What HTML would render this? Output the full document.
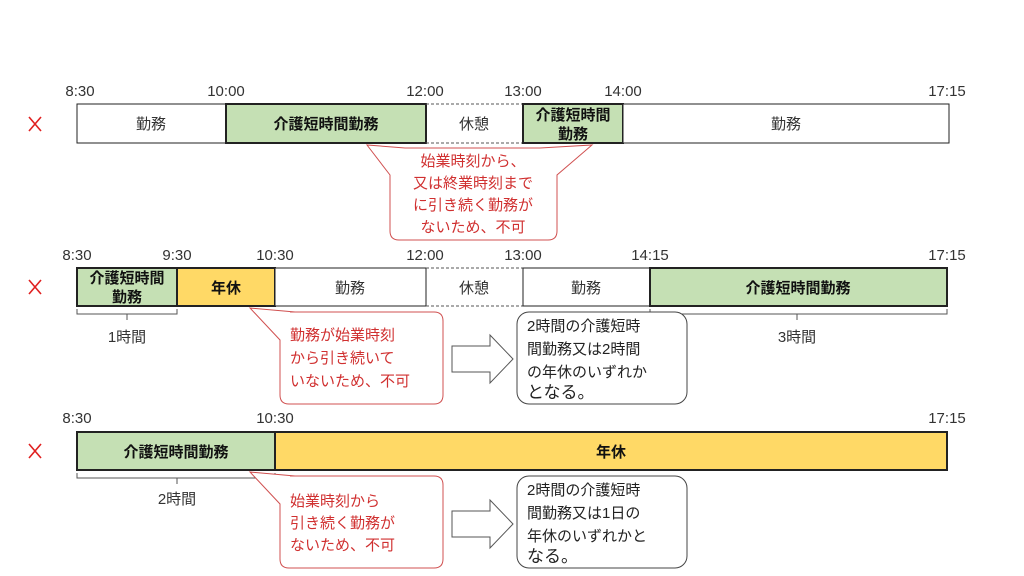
<!DOCTYPE html>
<html><head><meta charset="utf-8"><style>
body{margin:0;background:#fff}
svg{display:block;font-family:"Liberation Sans","Noto Sans CJK JP",sans-serif}
.t{font-size:15px;fill:#333;text-anchor:middle}
.b{font-size:15px;font-weight:bold;fill:#111;text-anchor:middle}
.r{font-size:15px;fill:#d03030}
.k{font-size:15px;fill:#222}
</style></head><body>
<svg width="1024" height="576" viewBox="0 0 1024 576">
<g stroke="#e02020" stroke-width="1.6"><path d="M29 117 L41 131 M41 117 L29 131"/><path d="M29 280 L41 294 M41 280 L29 294"/><path d="M29 444 L41 458 M41 444 L29 458"/></g>
<!-- Row 1 -->
<g class="t"><text x="80" y="96">8:30</text><text x="226" y="96">10:00</text><text x="425" y="96">12:00</text><text x="523" y="96">13:00</text><text x="623" y="96">14:00</text><text x="947" y="96">17:15</text></g>
<rect x="77" y="104" width="149" height="39" fill="#fff" stroke="#222"/>
<rect x="226" y="104" width="200" height="39" fill="#c5e0b4" stroke="#222" stroke-width="2"/>
<line x1="426" y1="104" x2="523" y2="104" stroke="#555" stroke-dasharray="3,2"/>
<line x1="426" y1="143" x2="523" y2="143" stroke="#555" stroke-dasharray="3,2"/>
<rect x="523" y="104" width="100" height="39" fill="#c5e0b4" stroke="#222" stroke-width="2"/>
<rect x="623" y="104" width="326" height="39" fill="#fff" stroke="#222"/>
<text class="t" x="151" y="129">勤務</text>
<text class="b" x="326" y="129">介護短時間勤務</text>
<text class="t" x="474" y="129">休憩</text>
<text class="b" x="573" y="120">介護短時間</text><text class="b" x="573" y="139">勤務</text>
<text class="t" x="786" y="129">勤務</text>
<path d="M405 148 L367 145 L390 175 V231 Q390 240 399 240 H548 Q557 240 557 231 V175 L592 145 L540 148 Z" fill="#fff" stroke="#d05050"/>
<g class="r" text-anchor="middle"><text x="473" y="166">始業時刻から、</text><text x="473" y="188">又は終業時刻まで</text><text x="473" y="210">に引き続く勤務が</text><text x="473" y="232">ないため、不可</text></g>
<!-- Row 2 -->
<g class="t"><text x="77" y="260">8:30</text><text x="177" y="260">9:30</text><text x="275" y="260">10:30</text><text x="425" y="260">12:00</text><text x="523" y="260">13:00</text><text x="650" y="260">14:15</text><text x="947" y="260">17:15</text></g>
<rect x="77" y="268" width="100" height="38" fill="#c5e0b4" stroke="#222" stroke-width="2"/>
<rect x="177" y="268" width="98" height="38" fill="#ffd966" stroke="#222" stroke-width="2"/>
<rect x="275" y="268" width="151" height="38" fill="#fff" stroke="#222"/>
<line x1="426" y1="268" x2="523" y2="268" stroke="#555" stroke-dasharray="3,2"/>
<line x1="426" y1="306" x2="523" y2="306" stroke="#555" stroke-dasharray="3,2"/>
<rect x="523" y="268" width="127" height="38" fill="#fff" stroke="#222"/>
<rect x="650" y="268" width="297" height="38" fill="#c5e0b4" stroke="#222" stroke-width="2"/>
<text class="b" x="127" y="283">介護短時間</text><text class="b" x="127" y="302">勤務</text>
<text class="b" x="226" y="293">年休</text>
<text class="t" x="350" y="293">勤務</text>
<text class="t" x="474" y="293">休憩</text>
<text class="t" x="586" y="293">勤務</text>
<text class="b" x="798" y="293">介護短時間勤務</text>
<path d="M77 309 V314 H177 V309 M127 314 V320" fill="none" stroke="#555"/>
<path d="M650 309 V314 H947 V309 M797 314 V320" fill="none" stroke="#555"/>
<text class="t" x="127" y="342">1時間</text><text class="t" x="797" y="342">3時間</text>
<path d="M290 312 H434 Q443 312 443 321 V395 Q443 404 434 404 H289 Q280 404 280 395 V340 L250 308 L295 312" fill="#fff" stroke="#d05050"/>
<g class="r"><text x="290" y="340">勤務が始業時刻</text><text x="290" y="363">から引き続いて</text><text x="290" y="386">いないため、不可</text></g>
<path d="M452 346 H490 V335 L513 359 L490 383 V372 H452 Z" fill="#fff" stroke="#555"/>
<rect x="517" y="312" width="170" height="92" rx="12" fill="#fff" stroke="#444"/>
<g class="k"><text x="527" y="331">2時間の介護短時</text><text x="527" y="354">間勤務又は2時間</text><text x="527" y="377">の年休のいずれか</text><text x="527" y="398" style="font-size:17px">となる。</text></g>
<!-- Row 3 -->
<g class="t"><text x="77" y="423">8:30</text><text x="275" y="423">10:30</text><text x="947" y="423">17:15</text></g>
<rect x="77" y="432" width="198" height="38" fill="#c5e0b4" stroke="#222" stroke-width="2"/>
<rect x="275" y="432" width="672" height="38" fill="#ffd966" stroke="#222" stroke-width="2"/>
<text class="b" x="176" y="457">介護短時間勤務</text>
<text class="b" x="611" y="457">年休</text>
<path d="M77 473 V478 H275 V473 M177 478 V484" fill="none" stroke="#555"/>
<text class="t" x="177" y="504">2時間</text>
<path d="M290 476 H434 Q443 476 443 485 V559 Q443 568 434 568 H289 Q280 568 280 559 V504 L250 472 L295 476" fill="#fff" stroke="#d05050"/>
<g class="r"><text x="290" y="506">始業時刻から</text><text x="290" y="528">引き続く勤務が</text><text x="290" y="550">ないため、不可</text></g>
<path d="M452 511 H490 V500 L513 524 L490 548 V537 H452 Z" fill="#fff" stroke="#555"/>
<rect x="517" y="476" width="170" height="92" rx="12" fill="#fff" stroke="#444"/>
<g class="k"><text x="527" y="495">2時間の介護短時</text><text x="527" y="518">間勤務又は1日の</text><text x="527" y="541">年休のいずれかと</text><text x="527" y="562" style="font-size:17px">なる。</text></g>
</svg>
</body></html>
